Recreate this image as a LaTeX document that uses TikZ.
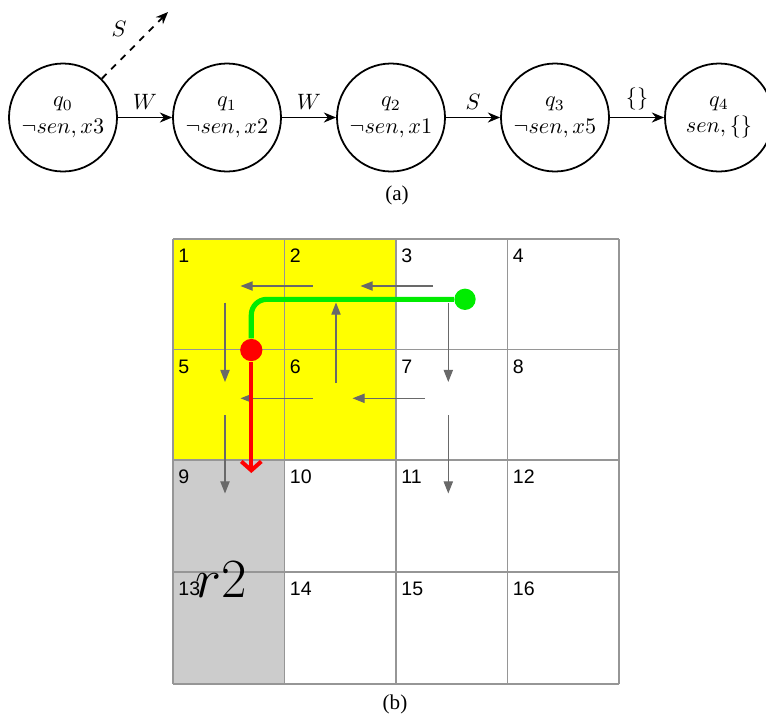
\documentclass[tikz,border=0pt]{standalone}
\usepackage{fontspec}
\usetikzlibrary{arrows.meta}
\newfontfamily\cellfont{Liberation Sans}
\newfontfamily\capfont{Liberation Serif}
\definecolor{pathgreen}{RGB}{0,236,0}
\definecolor{cellgray}{RGB}{204,204,204}
\definecolor{cellyellow}{RGB}{255,255,0}
\definecolor{linegray}{RGB}{150,150,150}
\definecolor{flowgray}{RGB}{105,105,105}
\tikzset{
  state/.style={circle,draw,line width=0.8pt,minimum size=48.6pt,inner sep=0pt,align=center},
  trans/.style={line width=0.8pt,-{Stealth[length=5.5pt,width=4.5pt]}},
  lbl/.style={above,inner sep=3pt},
  gridline/.style={draw=linegray,line width=0.5pt},
  cellnum/.style={anchor=base west,inner sep=0pt,font=\cellfont\fontsize{8.8}{10}\selectfont},
  flow/.style={draw=flowgray,line width=0.55pt,-{Triangle[length=5.5pt,width=4.2pt]}},
  caption/.style={font=\capfont\fontsize{9.5}{11}\selectfont,inner sep=0pt}
}
\begin{document}
\begin{tikzpicture}[x=0.45pt,y=-0.45pt]
\useasboundingbox (0,0) rectangle (766,714);

% ---- (a) automaton ----
\node[state] (q0) at (63,117.5)  {$q_0$\\$\neg sen, x3$};
\node[state] (q1) at (227,117.5) {$q_1$\\$\neg sen, x2$};
\node[state] (q2) at (391,117.5) {$q_2$\\$\neg sen, x1$};
\node[state] (q3) at (555,117.5) {$q_3$\\$\neg sen, x5$};
\node[state] (q4) at (719,117.5) {$q_4$\\$sen, \{\}$};

\draw[trans] (q0) -- node[lbl] (lw1) {$W$} (q1);
\draw[trans] (q1) -- node[lbl] (lw2) {$W$} (q2);
\draw[trans] (q2) -- node[lbl] (ls)  {$S$} (q3);
\draw[trans] (q3) -- node[lbl] (le)  {$\{\}$} (q4);

\coordinate (send) at (168,12);
\draw[trans,dashed] (q0.45) -- (send);
\node (lsup) at (119,29) {$S$};

\node[caption] (capa) at (397,195) {(a)};

% ---- (b) grid world ----
\fill[cellyellow] (173,239) rectangle (396,460);
\fill[cellgray] (173,460) rectangle (284.5,684);

\foreach \x in {173,284.5,396,507.5,619}
  \draw[gridline] (\x,239) -- (\x,684);
\foreach \y in {239,349.5,460,572,684}
  \draw[gridline] (173,\y) -- (619,\y);

% cell numbers
\foreach \n/\cx/\cy in {1/173/239,2/284.5/239,3/396/239,4/507.5/239,
                        5/173/349.5,6/284.5/349.5,7/396/349.5,8/507.5/349.5,
                        9/173/460,10/284.5/460,11/396/460,12/507.5/460,
                        13/173/572,14/284.5/572,15/396/572,16/507.5/572}
  \node[cellnum] (n\n) at (\cx+5,\cy+23.5) {\n};

\node[anchor=base west,inner sep=0pt,font=\fontsize{28.5}{32}\selectfont] (r2) at (195,597) {$r2$};

% policy arrows
\coordinate (a1s) at (312.7,286);   \coordinate (a1e) at (240.5,286);
\coordinate (a2s) at (433,286);     \coordinate (a2e) at (360.5,286);
\coordinate (a3s) at (336,383);     \coordinate (a3e) at (336,302.5);
\coordinate (a4s) at (225,302.5);   \coordinate (a4e) at (225,382);
\coordinate (a5s) at (448.3,302.5); \coordinate (a5e) at (448.3,382);
\coordinate (a6s) at (312.7,398.3); \coordinate (a6e) at (240.5,398.3);
\coordinate (a7s) at (425,398.3);   \coordinate (a7e) at (352.5,398.3);
\coordinate (a8s) at (225,415);     \coordinate (a8e) at (225,493.5);
\coordinate (a9s) at (448.3,415);   \coordinate (a9e) at (448.3,493.5);
\foreach \i in {1,...,9}
  \draw[flow] (a\i s) -- (a\i e);

% trajectory
\node[circle,fill=pathgreen,minimum size=9.6pt,inner sep=0pt] (gdot) at (465,299.3) {};
\node[circle,fill=red,minimum size=10pt,inner sep=0pt] (rdot) at (251.3,350) {};
\coordinate (corner) at (251.3,299.3);
\coordinate (rend) at (251.3,473);
\draw[pathgreen,line width=2.3pt,rounded corners=7pt] (gdot) -- (corner) -- (rdot);
\draw[red,line width=1.8pt,-{Straight Barb[length=4pt,width=9pt]}] (rdot) -- (rend);

\node[caption] (capb) at (395,704) {(b)};
\end{tikzpicture}
\end{document}
